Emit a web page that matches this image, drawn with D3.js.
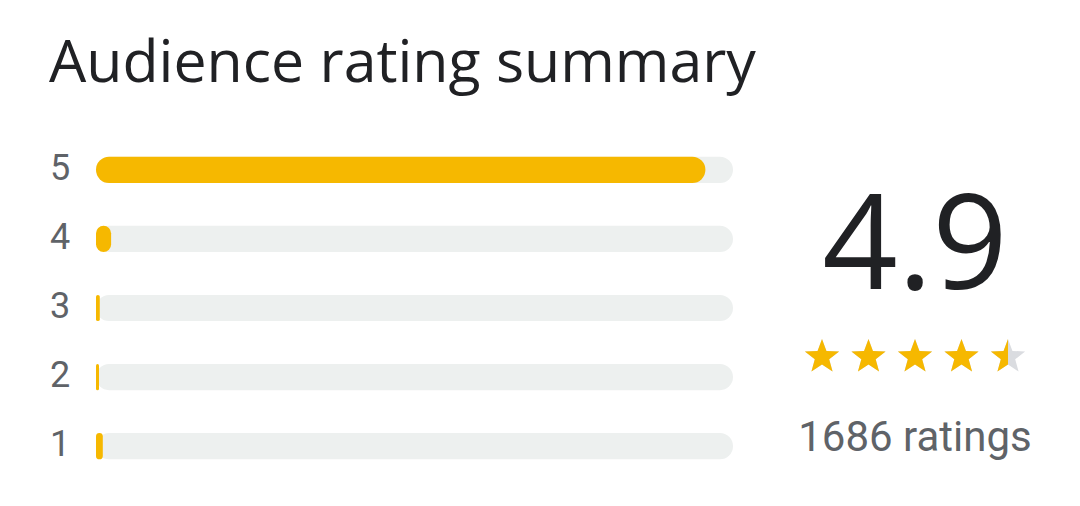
<!DOCTYPE html>
<html><head><meta charset="utf-8">
<script src="https://cdn.jsdelivr.net/npm/d3@7"></script>
<style>html,body{margin:0;padding:0;background:#fff;}svg{display:block;}</style>
</head><body>
<script>
const title = "Audience rating summary";
const stars = ["5","4","3","2","1"];
const counts = [1613, 40, 10, 5, 18];
const average = "4.9";
const totalLabel = "1686 ratings";
const starFill = [1, 1, 1, 1, 0.5];

const W = 1080, H = 506;
const svg = d3.select("body").append("svg").attr("width", W).attr("height", H);

const font = "Roboto, 'Noto Sans', sans-serif";

svg.append("text").attr("x", 49).attr("y", 82)
  .attr("font-family", "'Open Sans', sans-serif").attr("font-size", 59)
  .attr("fill", "#202124").text(title);

const total = d3.sum(counts);
const x = d3.scaleLinear().domain([0, total]).range([96, 733]);
const y = d3.scaleBand().domain(stars).range([136, 480]).paddingInner(0.62).paddingOuter(0.3);

const rows = svg.append("g").selectAll("g").data(stars).join("g")
  .attr("transform", d => `translate(0,${y(d)})`);
const bh = y.bandwidth();
rows.append("rect").attr("x", x(0)).attr("width", x(total) - x(0)).attr("height", bh)
  .attr("rx", bh/2).attr("fill", "#edf0ef");
rows.append("rect").attr("x", x(0))
  .attr("width", (d,i) => Math.max(3, x(counts[i]) - x(0))).attr("height", bh)
  .attr("rx", (d,i) => Math.min(bh/2, Math.max(3, x(counts[i]) - x(0))/2))
  .attr("fill", "#f6b800");
rows.append("text").attr("x", 60).attr("y", bh/2).attr("dy", "0.27em")
  .attr("text-anchor", "middle").attr("font-family", font).attr("font-size", 36)
  .attr("fill", "#5f6368").text(d => d);

svg.append("text").attr("x", 915).attr("y", 289).attr("text-anchor", "middle")
  .attr("font-family", "'Open Sans', sans-serif").attr("font-size", 132)
  .attr("fill", "#202124").text(average);

// stars
function starPath(cx, cy, R) {
  const r = R * 0.42;
  const pts = d3.range(10).map(k => {
    const a = -Math.PI/2 + k * Math.PI/5;
    const rr = k % 2 === 0 ? R : r;
    return [cx + rr*Math.cos(a), cy + rr*Math.sin(a)];
  });
  return "M" + pts.map(p => p.join(",")).join("L") + "Z";
}
const sx = d3.scaleLinear().domain([0, 4]).range([822, 1008]);
const R = 18, cy = 357;
const defs = svg.append("defs");
starFill.forEach((f, i) => {
  defs.append("clipPath").attr("id", "c" + i).append("rect")
    .attr("x", sx(i) - R).attr("y", cy - R - 2).attr("width", 2*R*f).attr("height", 2*R + 4);
});
const sg = svg.append("g");
sg.selectAll("path.bg").data(starFill).join("path").attr("class","bg")
  .attr("d", (d,i) => starPath(sx(i), cy, R)).attr("fill", "#dadce0");
sg.selectAll("path.fg").data(starFill).join("path").attr("class","fg")
  .attr("d", (d,i) => starPath(sx(i), cy, R)).attr("fill", "#f6b800")
  .attr("clip-path", (d,i) => `url(#c${i})`);

svg.append("text").attr("x", 915).attr("y", 451).attr("text-anchor", "middle")
  .attr("font-family", font).attr("font-size", 42).attr("fill", "#5f6368").text(totalLabel);
</script>
</body></html>
